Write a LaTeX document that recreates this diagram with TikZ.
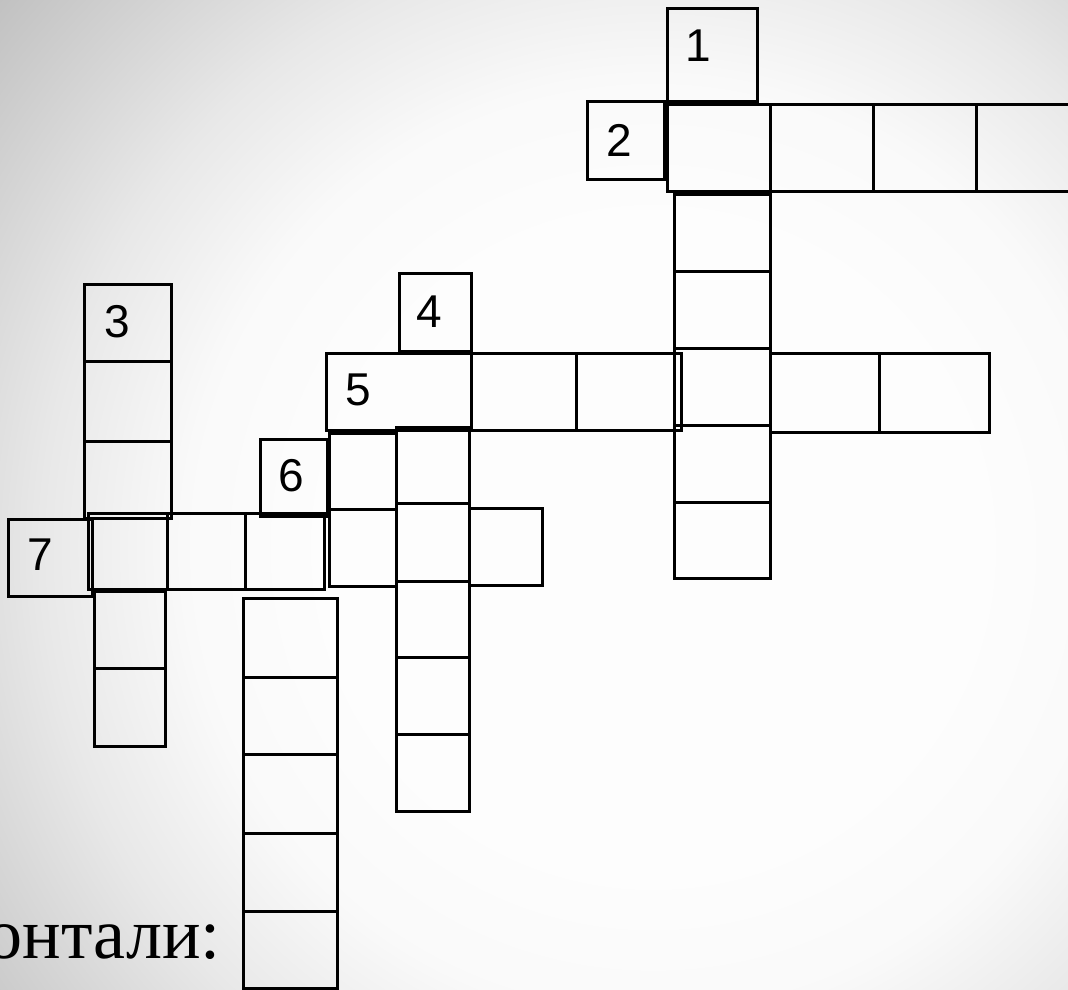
\documentclass[tikz,border=0pt]{standalone}
\usepackage{fontspec}
\setmainfont{Liberation Sans}
\newfontfamily\serifru{Liberation Serif}
\definecolor{bgA}{gray}{0.992}
\definecolor{bgB}{gray}{0.978}
\definecolor{bgC}{gray}{0.91}
\definecolor{bgD}{gray}{0.75}
\pgfdeclareradialshading{bgshade}{\pgfpoint{0bp}{0bp}}{color(0bp)=(bgA); color(9bp)=(bgA); color(13bp)=(bgB); color(17bp)=(bgC); color(24bp)=(bgD); color(25bp)=(bgD); color(50bp)=(bgD)}
\tikzset{
  cellbox/.style={draw=black, line width=3pt, rectangle, inner sep=0pt, outer sep=0pt},
  num/.style={font=\fontsize{46}{46}\selectfont, inner sep=0pt, text=black},
}
\newcommand\cw[5]{\node[cellbox, minimum width={#4-#2}, minimum height={#5-#3}] (#1) at ({(#2+#4)/2},{(#3+#5)/2}) {};}
\begin{document}
\begin{tikzpicture}[x=1pt,y=-1pt]
\useasboundingbox (0,0) rectangle (1068,989);
\begin{scope}
\clip (0,0) rectangle (1068,989);
\shade[shading=bgshade] (653,547) circle (900);
\end{scope}
% 1 and 2
\cw{b1}{667}{8}{757}{101}
\node[num] (t1) at (698,46) {1};
\cw{b2}{587}{101}{664}{179}
\node[num] (t2) at (619,140) {2};
\cw{r2a}{667}{104}{770}{191}
\cw{r2b}{770}{104}{873}{191}
\cw{r2c}{873}{104}{976}{191}
\cw{r2d}{976}{104}{1079}{191}
% column 1
\cw{c1a}{674}{194}{770}{271}
\cw{c1b}{674}{271}{770}{348}
\cw{c1c}{674}{348}{770}{425}
\cw{c1d}{674}{425}{770}{502}
\cw{c1e}{674}{502}{770}{578}
% column 3
\cw{c3a}{84}{284}{171}{361}
\node[num] (t3) at (117,322) {3};
\cw{c3b}{84}{361}{171}{441}
\cw{c3c}{84}{441}{171}{518}
% 4
\cw{b4}{399}{273}{471}{351}
\node[num] (t4) at (429,312) {4};
% row 5
\cw{r5a}{326}{353}{471}{430}
\node[num] (t5) at (358,390) {5};
\cw{r5b}{471}{353}{576}{430}
\cw{r5c}{576}{353}{681}{430}
\cw{r5d}{770}{353}{879}{432}
\cw{r5e}{879}{353}{989}{432}
% 6
\cw{b6}{260}{439}{327}{516}
\node[num] (t6) at (291,476) {6};
% column under 5
\cw{c5a}{329}{433}{396}{509}
\cw{c5b}{329}{509}{396}{586}
% column 4
\cw{c4a}{396}{427}{469}{503}
\cw{c4b}{396}{503}{469}{581}
\cw{c4c}{396}{581}{469}{657}
\cw{c4d}{396}{657}{469}{734}
\cw{c4e}{396}{734}{469}{811}
\cw{x4}{469}{508}{542}{585}
% 7
\cw{b7}{8}{519}{92}{596}
\node[num] (t7) at (40,555) {7};
\cw{r7a}{88}{513}{167}{589}
\cw{r7b}{167}{513}{245}{589}
\cw{r7c}{245}{513}{324}{589}
\cw{c7a}{94}{591}{165}{668}
\cw{c7b}{94}{668}{165}{746}
% long column 6
\cw{c6a}{243}{598}{337}{677}
\cw{c6b}{243}{677}{337}{754}
\cw{c6c}{243}{754}{337}{833}
\cw{c6d}{243}{833}{337}{911}
\cw{c6e}{243}{911}{337}{988}
% text
\node[anchor=base east, inner sep=0pt, font=\serifru\fontsize{72}{72}\selectfont] (hor) at (221,958) {онтали:};
\end{tikzpicture}
\end{document}
